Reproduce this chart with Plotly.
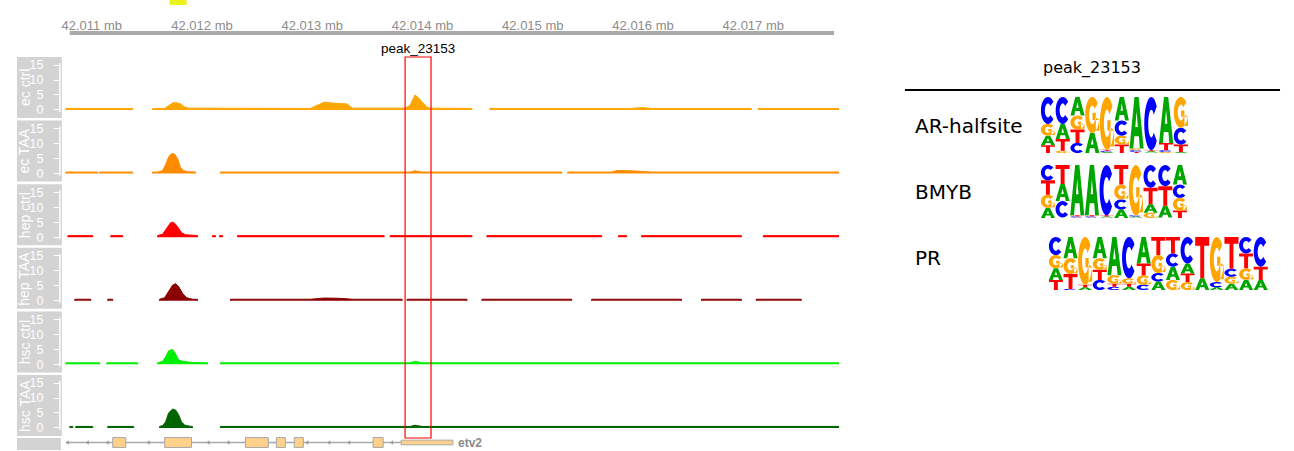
import math
import plotly.graph_objects as go

W, H = 1294, 451

# ---------------- genome browser data ----------------
REGION_START = 42010000                      # offsets below are relative to this
VIEW = [42010756, 42017778]
axis_ticks = [42011000, 42012000, 42013000, 42014000, 42015000, 42016000, 42017000]
axis_tick_text = ["42.011 mb", "42.012 mb", "42.013 mb", "42.014 mb",
                  "42.015 mb", "42.016 mb", "42.017 mb"]

peak_name = "peak_23153"
peak_span = [42013842, 42014077]

track_names = ["ec ctrl", "ec TAA", "hep ctrl", "hep TAA", "hsc ctrl", "hsc TAA"]
track_colors = ["#FFA500", "#FF8C00", "#FF0000", "#8B0000", "#00EE00", "#006400"]
cov_ticks = [0, 5, 10, 15]
BASE = 0.5                                   # coverage floor inside covered stretches

# covered stretches (start, end) and coverage profile points (offset, height)
ec_ctrl_covered = [(765, 1371), (1552, 4448), (4611, 6982), (7045, 7778)]
ec_ctrl_peaks = [(1661, 0.5), (1706, 1.5), (1733, 2.3), (1760, 2.5), (1805, 2.0), (1842, 1.0),
                 (1878, 0.6), (2982, 0.5), (3046, 1.6), (3109, 2.6), (3181, 2.3), (3254, 2.2),
                 (3317, 2.0), (3362, 0.6), (3842, 0.6), (3887, 1.5), (3914, 3.5), (3932, 5.0),
                 (3959, 4.2), (3996, 2.8), (4032, 1.2), (4059, 0.6), (5896, 0.5), (5987, 0.8),
                 (6077, 0.5)]

ec_taa_covered = [(765, 1054), (1072, 1371), (1552, 1941), (2167, 5263), (5317, 7778)]
ec_taa_peaks = [(1597, 0.5), (1643, 1.0), (1670, 3.0), (1697, 5.5), (1724, 6.7), (1751, 6.5),
                (1778, 5.0), (1805, 2.0), (1833, 1.0), (1869, 0.6), (3887, 0.5), (3932, 0.9),
                (3996, 0.5), (5715, 0.5), (5760, 1.0), (5896, 0.9), (6077, 0.5)]

hep_ctrl_covered = [(783, 1009), (1172, 1281), (1597, 1959), (2095, 2122), (2158, 2186),
                    (2321, 3652), (3706, 4448), (4584, 5625), (5778, 5851), (5987, 6892),
                    (7091, 7778)]
hep_ctrl_peaks = [(1643, 1.0), (1679, 3.0), (1715, 4.8), (1742, 5.0), (1778, 3.5), (1814, 1.5),
                  (1851, 0.8)]

hep_taa_covered = [(846, 991), (1145, 1190), (1615, 1959), (2258, 3815), (3860, 4403),
                   (4539, 5353), (5534, 6349), (6530, 6892), (7027, 7435)]
hep_taa_peaks = [(1661, 1.0), (1697, 3.0), (1733, 5.2), (1760, 5.7), (1787, 4.8), (1823, 2.5),
                 (1860, 1.0), (1914, 0.5), (2982, 0.5), (3109, 0.9), (3254, 0.8), (3362, 0.5)]

hsc_ctrl_covered = [(765, 1072), (1136, 1416), (1597, 2050), (2167, 7778)]
hsc_ctrl_peaks = [(1643, 1.0), (1670, 2.5), (1697, 4.5), (1733, 5.0), (1760, 3.5), (1787, 1.5),
                  (1823, 1.0), (1914, 0.6), (3887, 0.5), (3932, 1.0), (3996, 0.5)]

hsc_taa_covered = [(801, 828), (855, 1009), (1145, 1380), (1615, 1914), (2167, 7778)]
hsc_taa_peaks = [(1643, 0.8), (1670, 2.0), (1697, 5.0), (1733, 6.3), (1760, 6.0), (1787, 4.5),
                 (1814, 2.0), (1842, 1.0), (1887, 0.6), (3887, 0.5), (3932, 0.9), (3996, 0.5)]

track_covered = [ec_ctrl_covered, ec_taa_covered, hep_ctrl_covered,
                 hep_taa_covered, hsc_ctrl_covered, hsc_taa_covered]
track_peaks = [ec_ctrl_peaks, ec_taa_peaks, hep_ctrl_peaks,
               hep_taa_peaks, hsc_ctrl_peaks, hsc_taa_peaks]

# etv2 gene model (offsets)
gene_name = "etv2"
gene_intron = (765, 3806)
gene_exons = [(1190, 1308), (1661, 1905), (2394, 2602), (2674, 2756), (2837, 2919), (3552, 3643)]
gene_utr = (3806, 4276)
gene_strand_marks = [783, 964, 1145, 1516, 2059, 2240, 2955, 3154, 3335, 3724]

# ---------------- motif data (columns of A, C, G, T probabilities) ----------------
motif_names = ["AR-halfsite", "BMYB", "PR"]
ar_halfsite = [(0.17, 0.48, 0.21, 0.14), (0.27, 0.48, 0.04, 0.21), (0.33, 0.18, 0.25, 0.24),
               (0.36, 0.00, 0.64, 0.00), (0.02, 0.02, 0.94, 0.02), (0.42, 0.27, 0.16, 0.15),
               (0.92, 0.03, 0.03, 0.02), (0.02, 0.95, 0.01, 0.02), (0.82, 0.03, 0.02, 0.13),
               (0.02, 0.30, 0.55, 0.13)]
bmyb = [(0.19, 0.29, 0.25, 0.27), (0.32, 0.31, 0.01, 0.36), (0.95, 0.02, 0.01, 0.02),
        (0.95, 0.02, 0.01, 0.02), (0.02, 0.95, 0.01, 0.02), (0.16, 0.19, 0.28, 0.37),
        (0.02, 0.02, 0.95, 0.01), (0.16, 0.43, 0.10, 0.31), (0.22, 0.40, 0.01, 0.37),
        (0.37, 0.25, 0.24, 0.14)]
pr = [(0.22, 0.34, 0.25, 0.19), (0.40, 0.02, 0.30, 0.28), (0.05, 0.00, 0.90, 0.05),
      (0.40, 0.19, 0.22, 0.19), (0.72, 0.06, 0.16, 0.06), (0.06, 0.78, 0.10, 0.06),
      (0.50, 0.10, 0.18, 0.22), (0.16, 0.16, 0.34, 0.34), (0.25, 0.25, 0.19, 0.31),
      (0.19, 0.50, 0.15, 0.16), (0.22, 0.00, 0.00, 0.78), (0.05, 0.10, 0.85, 0.00),
      (0.12, 0.15, 0.13, 0.60), (0.19, 0.31, 0.22, 0.28), (0.19, 0.56, 0.00, 0.25)]
motifs = [ar_halfsite, bmyb, pr]
LETTER_COLORS = {"A": "#00A600", "C": "#0000FF", "G": "#FFA500", "T": "#FF0000"}

FONT = "Liberation Sans"
TABLE_FONT = "DejaVu Sans"


def px_x(px):
    return px / W


def px_y(py):
    return 1 - py / H


def profile(covered, peaks):
    """Closed outline per covered stretch, separated by gaps."""
    xs, ys = [], []
    for s, e in covered:
        pts = ([(s, 0), (s, BASE)] + [(p, h) for p, h in peaks if s < p < e]
               + [(e, BASE), (e, 0)])
        for p, h in pts:
            xs.append(REGION_START + p)
            ys.append(h)
        xs.append(None)
        ys.append(None)
    return xs, ys


# ---------------- letter outlines in a unit box ----------------
def ring(a0, a1, rxo=0.5, ryo=0.5, rxi=0.22, ryi=0.26, n=28):
    outer, inner = [], []
    for k in range(n + 1):
        a = math.radians(a0 + (a1 - a0) * k / n)
        outer.append((0.5 + rxo * math.cos(a), 0.5 + ryo * math.sin(a)))
        inner.append((0.5 + rxi * math.cos(a), 0.5 + ryi * math.sin(a)))
    return [outer + inner[::-1]]


GLYPHS = {
    "A": [[(0, 0), (0.35, 1), (0.65, 1), (1, 0), (0.73, 0), (0.66, 0.24), (0.34, 0.24), (0.27, 0)],
          [(0.41, 0.42), (0.59, 0.42), (0.5, 0.72)]],
    "C": ring(40, 320),
    "G": ring(40, 345) + [[(0.52, 0.36), (1, 0.36), (1, 0.56), (0.52, 0.56)],
                          [(0.75, 0.06), (1, 0.06), (1, 0.56), (0.75, 0.56)]],
    "T": [[(0, 1), (1, 1), (1, 0.79), (0.64, 0.79), (0.64, 0), (0.36, 0), (0.36, 0.79), (0, 0.79)]],
}


def glyph_path(letter, col, y0, h):
    parts = []
    for poly in GLYPHS[letter]:
        pts = ["{:.4f},{:.4f}".format(col + 0.02 + gx * 0.96, y0 + gy * h) for gx, gy in poly]
        parts.append("M" + " L".join(pts) + " Z")
    return " ".join(parts)


fig = go.Figure()
shapes = []
annotations = []
layout_axes = {}

# ---------------- coverage tracks ----------------
TRACK_TOP, TRACK_STEP, TRACK_H = 57, 63.6, 61
for i, (name, color) in enumerate(zip(track_names, track_colors)):
    top = TRACK_TOP + TRACK_STEP * i
    bottom = top + TRACK_H
    yname = "y" if i == 0 else "y%d" % (i + 1)
    ykey = "yaxis" if i == 0 else "yaxis%d" % (i + 1)
    xs, ys = profile(track_covered[i], track_peaks[i])
    fig.add_trace(go.Scatter(x=xs, y=ys, xaxis="x", yaxis=yname, mode="lines",
                             fill="toself", fillcolor=color, connectgaps=False,
                             line=dict(color=color, width=1), hoverinfo="skip",
                             showlegend=False))
    layout_axes[ykey] = dict(domain=[px_y(bottom), px_y(top)], range=[-2.7, 17.7],
                             anchor="free", position=px_x(57), side="left",
                             tickvals=cov_ticks, ticks="outside", ticklen=6, tickwidth=1,
                             tickcolor="white", ticklabelstandoff=8,
                             tickfont=dict(family=FONT, size=12.5, color="white"),
                             showgrid=False, zeroline=False, showline=False, fixedrange=True)
    # grey label panel
    shapes.append(dict(type="rect", xref="paper", yref=yname + " domain", x0=px_x(14), x1=px_x(59),
                       y0=0, y1=1, fillcolor="#D3D3D3", line=dict(width=0), layer="below"))
    shapes.append(dict(type="line", xref="paper", yref=yname, x0=px_x(57), x1=px_x(57),
                       y0=-0.7, y1=15.7, line=dict(color="white", width=1.5)))
    annotations.append(dict(xref="paper", yref=yname + " domain", x=px_x(21.5), y=0.5,
                            xanchor="center", yanchor="middle",
                            text=name, textangle=-90, showarrow=False,
                            font=dict(family=FONT, size=14, color="white")))

# genomic axis along the top
layout_axes["xaxis"] = dict(domain=[px_x(62), px_x(838)], range=VIEW, anchor="free",
                            position=px_y(33), side="top", tickvals=axis_ticks,
                            ticktext=axis_tick_text, ticks="", showline=False, showgrid=False,
                            zeroline=False, tickfont=dict(family=FONT, size=13, color="#8C8C8C"),
                            fixedrange=True)
shapes.append(dict(type="line", xref="x", yref="paper", x0=42010800, x1=42017733,
                   y0=px_y(33), y1=px_y(33), line=dict(color="#AAAAAA", width=4)))
shapes.append(dict(type="rect", xref="paper", yref="paper", x0=px_x(167), x1=px_x(184),
                   y0=px_y(5), y1=1, fillcolor="#EEF21C", line=dict(width=0)))

# peak highlight
shapes.append(dict(type="rect", xref="x", yref="paper", x0=peak_span[0], x1=peak_span[1],
                   y0=px_y(438), y1=px_y(57), line=dict(color="#FF0000", width=1.2)))
annotations.append(dict(xref="x", yref="paper", x=(peak_span[0] + peak_span[1]) / 2, y=px_y(48),
                        xanchor="center", yanchor="middle", text=peak_name, showarrow=False,
                        font=dict(family=FONT, size=13.5, color="black")))

# ---------------- gene model ----------------
layout_axes["yaxis7"] = dict(domain=[px_y(449), px_y(436)], range=[-0.5, 0.5], anchor="free",
                             position=px_x(62), visible=False, fixedrange=True)
shapes.append(dict(type="rect", xref="paper", yref="paper", x0=px_x(14), x1=px_x(58),
                   y0=px_y(450), y1=px_y(438), fillcolor="#D3D3D3", line=dict(width=0),
                   layer="below"))
fig.add_trace(go.Scatter(x=[REGION_START + gene_intron[0], REGION_START + gene_intron[1]],
                         y=[0, 0], xaxis="x", yaxis="y7", mode="lines",
                         line=dict(color="#A9A9A9", width=1.5), hoverinfo="skip",
                         showlegend=False))
fig.add_trace(go.Scatter(x=[REGION_START + p for p in gene_strand_marks],
                         y=[0] * len(gene_strand_marks), xaxis="x", yaxis="y7", mode="markers",
                         marker=dict(symbol="triangle-left", size=4, color="#999999"),
                         hoverinfo="skip", showlegend=False))
for s, e in gene_exons:
    shapes.append(dict(type="rect", xref="x", yref="y7", x0=REGION_START + s, x1=REGION_START + e,
                       y0=-0.38, y1=0.38, fillcolor="#FFD08A",
                       line=dict(color="#A8A8A8", width=1)))
shapes.append(dict(type="rect", xref="x", yref="y7", x0=REGION_START + gene_utr[0],
                   x1=REGION_START + gene_utr[1], y0=-0.18, y1=0.18, fillcolor="#FFD08A",
                   line=dict(color="#A8A8A8", width=1)))
annotations.append(dict(xref="x", yref="y7", x=REGION_START + gene_utr[1], y=0, xanchor="left",
                        yanchor="middle", xshift=3, text="<b>%s</b>" % gene_name, showarrow=False,
                        font=dict(family=FONT, size=12, color="#8A8A8A")))

# ---------------- motif table ----------------
annotations.append(dict(xref="paper", yref="paper", x=px_x(1092), y=px_y(68), text=peak_name,
                        xanchor="center", yanchor="middle", showarrow=False,
                        font=dict(family=TABLE_FONT, size=16, color="black")))
shapes.append(dict(type="line", xref="paper", yref="paper", x0=px_x(904), x1=px_x(1280),
                   y0=px_y(90), y1=px_y(90), line=dict(color="black", width=2)))

logo_boxes = [(1040, 1188, 97, 153), (1040, 1187, 165, 218), (1048, 1268, 237, 290)]
label_rows = [126, 192, 258]
for k, (mname, cols, box, ly) in enumerate(zip(motif_names, motifs, logo_boxes, label_rows)):
    xa, ya = "x%d" % (k + 8), "y%d" % (k + 8)
    x0, x1, t, b = box
    layout_axes["xaxis%d" % (k + 8)] = dict(domain=[px_x(x0), px_x(x1)], range=[0, len(cols)],
                                            anchor=ya, visible=False, fixedrange=True)
    layout_axes["yaxis%d" % (k + 8)] = dict(domain=[px_y(b), px_y(t)], range=[0, 1],
                                            anchor=xa, visible=False, fixedrange=True)
    fig.add_trace(go.Scatter(x=[None], y=[None], xaxis=xa, yaxis=ya, showlegend=False,
                             hoverinfo="skip"))
    for c, probs in enumerate(cols):
        total = sum(probs)
        stack = sorted(zip("ACGT", probs), key=lambda t: t[1])
        y0 = 0.0
        for letter, p in stack:
            h = p / total
            if h >= 0.015:
                shapes.append(dict(type="path", xref=xa, yref=ya,
                                   path=glyph_path(letter, c, y0, h),
                                   fillcolor=LETTER_COLORS[letter], line=dict(width=0)))
            y0 += h
    annotations.append(dict(xref="paper", yref="paper", x=px_x(912), y=px_y(ly), xanchor="left",
                            yanchor="middle", text=mname, showarrow=False,
                            font=dict(family=TABLE_FONT, size=20, color="black")))

fig.update_layout(width=W, height=H, margin=dict(l=0, r=0, t=0, b=0),
                  paper_bgcolor="white", plot_bgcolor="white", showlegend=False,
                  shapes=shapes, annotations=annotations, **layout_axes)

fig.write_html("out.html", config={"displayModeBar": False})
